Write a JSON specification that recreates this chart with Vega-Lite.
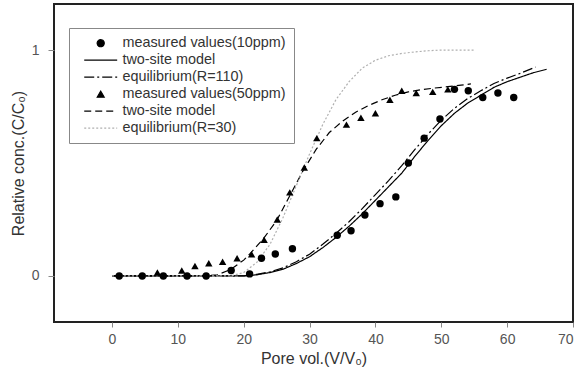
{
  "$schema": "https://vega.github.io/schema/vega-lite/v6.json",
  "width": 519,
  "height": 318,
  "autosize": {"type": "none"},
  "padding": {"left": 54, "top": 4, "right": 8, "bottom": 45},
  "background": "white",
  "config": {
    "view": {"stroke": "#222", "strokeWidth": 2},
    "font": "Liberation Sans",
    "axis": {
      "grid": false,
      "domain": false,
      "tickColor": "#888",
      "tickSize": 5,
      "labelColor": "#555",
      "titleColor": "#333",
      "labelFont": "Liberation Sans",
      "titleFont": "Liberation Sans",
      "labelFontSize": 14,
      "titleFontSize": 16,
      "titleFontWeight": "normal"
    },
    "legend": {
      "orient": "none",
      "legendX": 15,
      "legendY": 24,
      "padding": 8,
      "strokeColor": "#888",
      "fillColor": "white",
      "labelFont": "Liberation Sans",
      "labelFontSize": 14.4,
      "labelColor": "#333",
      "labelLimit": 0,
      "symbolSize": 50,
      "rowPadding": 2,
      "symbolOffset": 16.5,
      "labelOffset": 14.5
    }
  },
  "data": {
    "values": [
      {"series": "measured values(10ppm)", "x": 1.1, "y": 0},
      {"series": "measured values(10ppm)", "x": 4.6, "y": 0},
      {"series": "measured values(10ppm)", "x": 7.8, "y": 0},
      {"series": "measured values(10ppm)", "x": 11.4, "y": 0},
      {"series": "measured values(10ppm)", "x": 14.3, "y": 0},
      {"series": "measured values(10ppm)", "x": 18.1, "y": 0.024},
      {"series": "measured values(10ppm)", "x": 20.9, "y": 0.009},
      {"series": "measured values(10ppm)", "x": 22.7, "y": 0.078},
      {"series": "measured values(10ppm)", "x": 24.8, "y": 0.097},
      {"series": "measured values(10ppm)", "x": 27.4, "y": 0.12},
      {"series": "measured values(10ppm)", "x": 34.2, "y": 0.18},
      {"series": "measured values(10ppm)", "x": 36.3, "y": 0.2},
      {"series": "measured values(10ppm)", "x": 38.4, "y": 0.27},
      {"series": "measured values(10ppm)", "x": 40.7, "y": 0.32},
      {"series": "measured values(10ppm)", "x": 43.1, "y": 0.35},
      {"series": "measured values(10ppm)", "x": 45.0, "y": 0.5},
      {"series": "measured values(10ppm)", "x": 47.4, "y": 0.61},
      {"series": "measured values(10ppm)", "x": 49.8, "y": 0.695},
      {"series": "measured values(10ppm)", "x": 52.0, "y": 0.826},
      {"series": "measured values(10ppm)", "x": 54.1, "y": 0.82},
      {"series": "measured values(10ppm)", "x": 56.3, "y": 0.79},
      {"series": "measured values(10ppm)", "x": 58.6, "y": 0.81},
      {"series": "measured values(10ppm)", "x": 61.0, "y": 0.79},

      {"series": "measured values(50ppm)", "x": 6.9, "y": 0.015},
      {"series": "measured values(50ppm)", "x": 10.6, "y": 0.024},
      {"series": "measured values(50ppm)", "x": 12.6, "y": 0.044},
      {"series": "measured values(50ppm)", "x": 14.7, "y": 0.056},
      {"series": "measured values(50ppm)", "x": 16.8, "y": 0.063},
      {"series": "measured values(50ppm)", "x": 19.0, "y": 0.078},
      {"series": "measured values(50ppm)", "x": 21.2, "y": 0.096},
      {"series": "measured values(50ppm)", "x": 23.1, "y": 0.16},
      {"series": "measured values(50ppm)", "x": 25.1, "y": 0.25},
      {"series": "measured values(50ppm)", "x": 27.0, "y": 0.37},
      {"series": "measured values(50ppm)", "x": 29.2, "y": 0.48},
      {"series": "measured values(50ppm)", "x": 31.1, "y": 0.61},
      {"series": "measured values(50ppm)", "x": 35.6, "y": 0.67},
      {"series": "measured values(50ppm)", "x": 37.8, "y": 0.7},
      {"series": "measured values(50ppm)", "x": 40.0, "y": 0.72},
      {"series": "measured values(50ppm)", "x": 42.2, "y": 0.78},
      {"series": "measured values(50ppm)", "x": 44.0, "y": 0.82},
      {"series": "measured values(50ppm)", "x": 46.2, "y": 0.81},
      {"series": "measured values(50ppm)", "x": 48.7, "y": 0.815},
      {"series": "measured values(50ppm)", "x": 51.0, "y": 0.826},

      {"series": "two-site model (10ppm)", "x": 0, "y": 0},
      {"series": "two-site model (10ppm)", "x": 20, "y": 0},
      {"series": "two-site model (10ppm)", "x": 22, "y": 0.005},
      {"series": "two-site model (10ppm)", "x": 24, "y": 0.015},
      {"series": "two-site model (10ppm)", "x": 26, "y": 0.03},
      {"series": "two-site model (10ppm)", "x": 28, "y": 0.055},
      {"series": "two-site model (10ppm)", "x": 30, "y": 0.085},
      {"series": "two-site model (10ppm)", "x": 32, "y": 0.125},
      {"series": "two-site model (10ppm)", "x": 34, "y": 0.17},
      {"series": "two-site model (10ppm)", "x": 36, "y": 0.22},
      {"series": "two-site model (10ppm)", "x": 38, "y": 0.275},
      {"series": "two-site model (10ppm)", "x": 40, "y": 0.335},
      {"series": "two-site model (10ppm)", "x": 42, "y": 0.395},
      {"series": "two-site model (10ppm)", "x": 44, "y": 0.455},
      {"series": "two-site model (10ppm)", "x": 46, "y": 0.53},
      {"series": "two-site model (10ppm)", "x": 48, "y": 0.6},
      {"series": "two-site model (10ppm)", "x": 50, "y": 0.665},
      {"series": "two-site model (10ppm)", "x": 52, "y": 0.72},
      {"series": "two-site model (10ppm)", "x": 54, "y": 0.765},
      {"series": "two-site model (10ppm)", "x": 56, "y": 0.8},
      {"series": "two-site model (10ppm)", "x": 58, "y": 0.835},
      {"series": "two-site model (10ppm)", "x": 60, "y": 0.86},
      {"series": "two-site model (10ppm)", "x": 62, "y": 0.88},
      {"series": "two-site model (10ppm)", "x": 64, "y": 0.9},
      {"series": "two-site model (10ppm)", "x": 66, "y": 0.915},

      {"series": "equilibrium(R=110)", "x": 0, "y": 0},
      {"series": "equilibrium(R=110)", "x": 20, "y": 0},
      {"series": "equilibrium(R=110)", "x": 22, "y": 0.007},
      {"series": "equilibrium(R=110)", "x": 24, "y": 0.018},
      {"series": "equilibrium(R=110)", "x": 26, "y": 0.036},
      {"series": "equilibrium(R=110)", "x": 28, "y": 0.063},
      {"series": "equilibrium(R=110)", "x": 30, "y": 0.096},
      {"series": "equilibrium(R=110)", "x": 32, "y": 0.14},
      {"series": "equilibrium(R=110)", "x": 34, "y": 0.188},
      {"series": "equilibrium(R=110)", "x": 36, "y": 0.24},
      {"series": "equilibrium(R=110)", "x": 38, "y": 0.298},
      {"series": "equilibrium(R=110)", "x": 40, "y": 0.36},
      {"series": "equilibrium(R=110)", "x": 42, "y": 0.422},
      {"series": "equilibrium(R=110)", "x": 44, "y": 0.488},
      {"series": "equilibrium(R=110)", "x": 46, "y": 0.56},
      {"series": "equilibrium(R=110)", "x": 48, "y": 0.628},
      {"series": "equilibrium(R=110)", "x": 50, "y": 0.69},
      {"series": "equilibrium(R=110)", "x": 52, "y": 0.742},
      {"series": "equilibrium(R=110)", "x": 54, "y": 0.785},
      {"series": "equilibrium(R=110)", "x": 56, "y": 0.82},
      {"series": "equilibrium(R=110)", "x": 58, "y": 0.852},
      {"series": "equilibrium(R=110)", "x": 60, "y": 0.876},
      {"series": "equilibrium(R=110)", "x": 62, "y": 0.897},
      {"series": "equilibrium(R=110)", "x": 64.3, "y": 0.925},

      {"series": "two-site model (50ppm)", "x": 0, "y": 0},
      {"series": "two-site model (50ppm)", "x": 14, "y": 0},
      {"series": "two-site model (50ppm)", "x": 16, "y": 0.005},
      {"series": "two-site model (50ppm)", "x": 18, "y": 0.028},
      {"series": "two-site model (50ppm)", "x": 20, "y": 0.07},
      {"series": "two-site model (50ppm)", "x": 21, "y": 0.1},
      {"series": "two-site model (50ppm)", "x": 23, "y": 0.165},
      {"series": "two-site model (50ppm)", "x": 25, "y": 0.245},
      {"series": "two-site model (50ppm)", "x": 27, "y": 0.355},
      {"series": "two-site model (50ppm)", "x": 29, "y": 0.465},
      {"series": "two-site model (50ppm)", "x": 31, "y": 0.56},
      {"series": "two-site model (50ppm)", "x": 33, "y": 0.635},
      {"series": "two-site model (50ppm)", "x": 35, "y": 0.685},
      {"series": "two-site model (50ppm)", "x": 37, "y": 0.725},
      {"series": "two-site model (50ppm)", "x": 39, "y": 0.755},
      {"series": "two-site model (50ppm)", "x": 41, "y": 0.78},
      {"series": "two-site model (50ppm)", "x": 43, "y": 0.8},
      {"series": "two-site model (50ppm)", "x": 45, "y": 0.815},
      {"series": "two-site model (50ppm)", "x": 47, "y": 0.825},
      {"series": "two-site model (50ppm)", "x": 49, "y": 0.832},
      {"series": "two-site model (50ppm)", "x": 51, "y": 0.838},
      {"series": "two-site model (50ppm)", "x": 53, "y": 0.845},
      {"series": "two-site model (50ppm)", "x": 54.5, "y": 0.85},

      {"series": "equilibrium(R=30)", "x": 0, "y": 0},
      {"series": "equilibrium(R=30)", "x": 18, "y": 0},
      {"series": "equilibrium(R=30)", "x": 20, "y": 0.015},
      {"series": "equilibrium(R=30)", "x": 22, "y": 0.06},
      {"series": "equilibrium(R=30)", "x": 24, "y": 0.14},
      {"series": "equilibrium(R=30)", "x": 26, "y": 0.26},
      {"series": "equilibrium(R=30)", "x": 28, "y": 0.4},
      {"series": "equilibrium(R=30)", "x": 30, "y": 0.54},
      {"series": "equilibrium(R=30)", "x": 32, "y": 0.67},
      {"series": "equilibrium(R=30)", "x": 34, "y": 0.78},
      {"series": "equilibrium(R=30)", "x": 36, "y": 0.86},
      {"series": "equilibrium(R=30)", "x": 38, "y": 0.92},
      {"series": "equilibrium(R=30)", "x": 40, "y": 0.955},
      {"series": "equilibrium(R=30)", "x": 42, "y": 0.975},
      {"series": "equilibrium(R=30)", "x": 44, "y": 0.985},
      {"series": "equilibrium(R=30)", "x": 46, "y": 0.992},
      {"series": "equilibrium(R=30)", "x": 48, "y": 0.997},
      {"series": "equilibrium(R=30)", "x": 50, "y": 1},
      {"series": "equilibrium(R=30)", "x": 55, "y": 1}
    ]
  },
  "layer": [
    {
      "transform": [{"filter": {"not": {"field": "series", "oneOf": ["measured values(10ppm)", "measured values(50ppm)"]}}}],
      "mark": {"type": "line", "strokeWidth": 1.2},
      "encoding": {
        "x": {"field": "x", "type": "quantitative", "scale": {"domain": [-8.8, 70], "nice": false, "zero": false},
              "axis": {"values": [0, 10, 20, 30, 40, 50, 60, 70], "title": "Pore vol.(V/V₀)", "labelPadding": 5, "titlePadding": 4}},
        "y": {"field": "y", "type": "quantitative", "scale": {"domain": [-0.204, 1.204], "nice": false, "zero": false},
              "axis": {"values": [0, 1], "format": "d", "title": "Relative conc.(C/C₀)", "labelPadding": 9, "titlePadding": 5, "tickSize": 6}},
        "color": {
          "field": "series", "type": "nominal",
          "scale": {"domain": ["measured values(10ppm)", "two-site model (10ppm)", "equilibrium(R=110)", "measured values(50ppm)", "two-site model (50ppm)", "equilibrium(R=30)"],
                    "range": ["#000000", "#000000", "#000000", "#000000", "#000000", "#b0b0b0"]},
          "legend": {
            "title": null,
            "labelExpr": "indexof(datum.label, 'two-site') >= 0 ? 'two-site model' : datum.label",
            "encode": {"symbols": {"update": {
              "stroke": {"scale": "color", "field": "value"},
              "fill": {"scale": "color", "field": "value"},
              "strokeDash": {"scale": "strokeDash", "field": "value"},
              "shape": {"scale": "shape", "field": "value"},
              "strokeWidth": {"value": 1.2},
              "opacity": {"value": 1}
            }}}
          }
        },
        "strokeDash": {
          "field": "series", "type": "nominal",
          "scale": {"domain": ["measured values(10ppm)", "two-site model (10ppm)", "equilibrium(R=110)", "measured values(50ppm)", "two-site model (50ppm)", "equilibrium(R=30)"],
                    "range": [[1, 0], [1, 0], [10, 3, 2, 3], [1, 0], [7, 4], [2, 2]]},
          "legend": {"title": null}
        }
      }
    },
    {
      "transform": [{"filter": {"field": "series", "oneOf": ["measured values(10ppm)", "measured values(50ppm)"]}}],
      "mark": {"type": "point", "filled": true, "size": 55, "opacity": 1},
      "encoding": {
        "x": {"field": "x", "type": "quantitative"},
        "y": {"field": "y", "type": "quantitative"},
        "color": {"field": "series", "type": "nominal"},
        "shape": {
          "field": "series", "type": "nominal",
          "scale": {"domain": ["measured values(10ppm)", "two-site model (10ppm)", "equilibrium(R=110)", "measured values(50ppm)", "two-site model (50ppm)", "equilibrium(R=30)"],
                    "range": ["circle", "M-4.66,0H4.66", "M-4.66,0H4.66", "triangle-up", "M-4.66,0H4.66", "M-4.66,0H4.66"]},
          "legend": {"title": null}
        }
      }
    }
  ]
}
